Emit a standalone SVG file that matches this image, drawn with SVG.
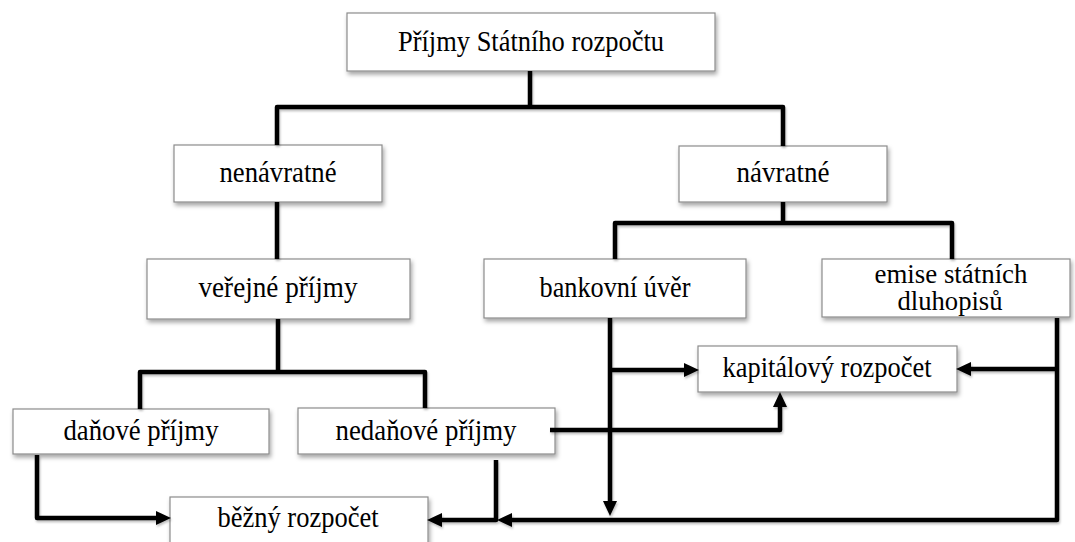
<svg xmlns="http://www.w3.org/2000/svg" width="1075" height="542" viewBox="0 0 1075 542">
<defs>
<filter id="sh" x="-10%" y="-20%" width="120%" height="150%">
<feDropShadow dx="1.5" dy="3" stdDeviation="2" flood-color="#000" flood-opacity="0.35"/>
</filter>
<filter id="lsh" x="-5%" y="-5%" width="110%" height="110%">
<feDropShadow dx="1" dy="2" stdDeviation="1.2" flood-color="#000" flood-opacity="0.25"/>
</filter>
<marker id="ah" markerUnits="userSpaceOnUse" markerWidth="15" markerHeight="14" refX="4" refY="7" orient="auto">
<path d="M0,0 L15,7 L0,14 z" fill="#000"/>
</marker>
</defs>
<style>
.box{fill:#fff;stroke:#8c8c8c;stroke-width:1.2;filter:url(#sh)}
.t{font-family:"Liberation Serif","Times New Roman",serif;font-size:29px;fill:#000;text-anchor:middle}
.s{font-size:27px}
.c{fill:none;stroke:#000;stroke-width:4.5;stroke-linejoin:round}
.a{marker-end:url(#ah)}
</style>
<rect width="1075" height="542" fill="#fff"/>
<g id="n-top"><rect class="box" x="347" y="13" width="368" height="58"/><text class="t" x="531" y="50.5" textLength="266" lengthAdjust="spacingAndGlyphs">Příjmy Státního rozpočtu</text></g>
<g id="n-nenavratne"><rect class="box" x="174" y="145" width="208" height="57"/><text class="t" x="278" y="182" textLength="117" lengthAdjust="spacingAndGlyphs">nenávratné</text></g>
<g id="n-navratne"><rect class="box" x="679" y="146" width="208" height="56"/><text class="t" x="783" y="182" textLength="93" lengthAdjust="spacingAndGlyphs">návratné</text></g>
<g id="n-verejne"><rect class="box" x="147" y="259" width="263" height="60"/><text class="t" x="278" y="297" textLength="159" lengthAdjust="spacingAndGlyphs">veřejné příjmy</text></g>
<g id="n-bankovni"><rect class="box" x="484" y="259" width="262" height="59"/><text class="t" x="615" y="297" textLength="151" lengthAdjust="spacingAndGlyphs">bankovní úvěr</text></g>
<g id="n-emise"><rect class="box" x="822" y="259" width="248" height="58"/><text class="t s" x="951" y="283" textLength="153" lengthAdjust="spacingAndGlyphs">emise státních</text><text class="t s" x="950" y="310" textLength="105" lengthAdjust="spacingAndGlyphs">dluhopisů</text></g>
<g id="n-kapital"><rect class="box" x="698" y="346" width="259" height="46"/><text class="t" x="827" y="377" textLength="209" lengthAdjust="spacingAndGlyphs">kapitálový rozpočet</text></g>
<g id="n-danove"><rect class="box" x="13" y="409" width="256" height="45"/><text class="t" x="141" y="440" textLength="155" lengthAdjust="spacingAndGlyphs">daňové příjmy</text></g>
<g id="n-nedanove"><rect class="box" x="298" y="408" width="257" height="46"/><text class="t" x="426" y="440" textLength="181" lengthAdjust="spacingAndGlyphs">nedaňové příjmy</text></g>
<g id="n-bezny"><rect class="box" x="170" y="497" width="258" height="58"/><text class="t" x="298" y="527" textLength="161" lengthAdjust="spacingAndGlyphs">běžný rozpočet</text></g>
<g id="connectors" filter="url(#lsh)">
<path class="c" d="M530,71 V107"/>
<path class="c" d="M277,145 V107 H783 V146"/>
<path class="c" d="M277,202 V259"/>
<path class="c" d="M278,319 V372"/>
<path class="c" d="M140,409 V372 H425 V408"/>
<path class="c" d="M783,202 V223"/>
<path class="c" d="M615,259 V223 H952 V259"/>
<path class="c a" d="M610,318 V505"/>
<path class="c a" d="M610,370 H688"/>
<path class="c a" d="M1057,318 V520 H508"/>
<path class="c a" d="M1057,369 H967"/>
<path class="c a" d="M550,430 H780 V403"/>
<path class="c a" d="M496,460 V520 H438"/>
<path class="c a" d="M37,455 V518 H160"/>
</g>
</svg>
